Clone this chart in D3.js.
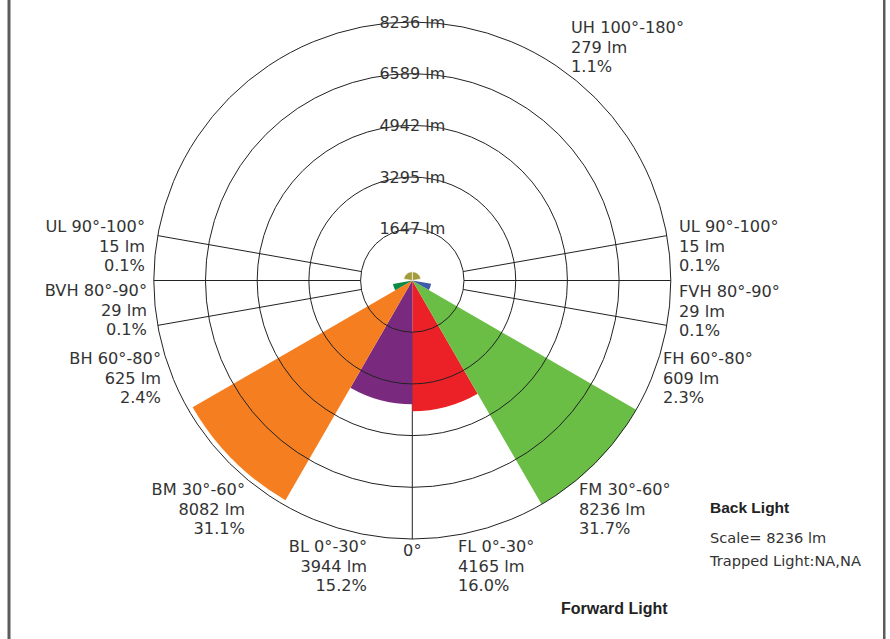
<!DOCTYPE html>
<html>
<head>
<meta charset="utf-8">
<script src="https://cdn.jsdelivr.net/npm/d3@7"></script>
<style>
  html, body { margin: 0; padding: 0; background: #fff; }
  svg { display: block; }
  text { font-family: "DejaVu Sans", Verdana, sans-serif; fill: #333; }
</style>
</head>
<body>
<svg id="chart" width="890" height="639"></svg>
<script>
// ---- data ----
const backZones = ["BL 0°-30°", "BM 30°-60°", "BH 60°-80°", "BVH 80°-90°", "UL 90°-100°"];
const backLumens = [3944, 8082, 625, 29, 15];
const backPercent = ["15.2%", "31.1%", "2.4%", "0.1%", "0.1%"];
const forwardZones = ["FL 0°-30°", "FM 30°-60°", "FH 60°-80°", "FVH 80°-90°", "UL 90°-100°"];
const forwardLumens = [4165, 8236, 609, 29, 15];
const forwardPercent = ["16.0%", "31.7%", "2.3%", "0.1%", "0.1%"];
const zoneStartDeg = [0, 30, 60, 80, 90];
const zoneEndDeg = [30, 60, 80, 90, 100];
const uplightZone = "UH 100°-180°";
const uplightLumens = 279;
const uplightPercent = "1.1%";
const uplightDeg = [100, 180];
const ringValues = [1647, 3295, 4942, 6589, 8236];
const gridAngles = [0, 80, 90, 100];
const scaleMax = 8236;
const trappedLight = "NA,NA";

// ---- style / layout ----
const backColors = ["#7a2a7e", "#f47e20", "#0c8a44", "#0c8a44", "#9a9a9a"];
const forwardColors = ["#ec2027", "#6abd45", "#3d5ba8", "#3d5ba8", "#9a9a9a"];
const uplightColor = "#a39c3e";
const cx = 412.3, cy = 280.5, R = 258.5;
const lineGap = 19.6;
const backLabelPos = [[367, 552], [245, 495], [161, 364], [147, 296], [145, 232]];
const forwardLabelPos = [[458, 552], [579, 495], [663, 364], [679, 297], [679, 232]];
const uplightLabelPos = [571, 33];

const svg = d3.select("#chart");
svg.append("rect").attr("x", 7.5).attr("y", 0).attr("width", 3).attr("height", 639).attr("fill", "#5c5c5c");
svg.append("rect").attr("x", 883).attr("y", 0).attr("width", 2.5).attr("height", 639).attr("fill", "#5c5c5c");

const r = d3.scaleLinear().domain([0, scaleMax]).range([0, R]);
const g = svg.append("g").attr("transform", `translate(${cx},${cy})`);
const rad = d => d * Math.PI / 180;

// radial grid lines (under the wedges)
const gridLines = [];
gridAngles.forEach(a => {
  gridLines.push(a);
  if (a !== 0) gridLines.push(-a);
});
g.selectAll("line.grid").data(gridLines).join("line")
  .attr("class", "grid")
  .attr("x1", a => r(ringValues[0]) * Math.sin(rad(a)))
  .attr("y1", a => r(ringValues[0]) * Math.cos(rad(a)))
  .attr("x2", a => R * Math.sin(rad(a)))
  .attr("y2", a => R * Math.cos(rad(a)))
  .attr("stroke", "#222").attr("stroke-width", 1);

// wedges
const arc = d3.arc().innerRadius(0);
const wedges = [];
forwardLumens.forEach((v, i) => wedges.push({
  v, color: forwardColors[i],
  start: Math.PI - rad(zoneEndDeg[i]), end: Math.PI - rad(zoneStartDeg[i])
}));
backLumens.forEach((v, i) => wedges.push({
  v, color: backColors[i],
  start: Math.PI + rad(zoneStartDeg[i]), end: Math.PI + rad(zoneEndDeg[i])
}));
g.selectAll("path.wedge").data(wedges).join("path")
  .attr("class", "wedge")
  .attr("d", d => arc({outerRadius: r(d.v), startAngle: d.start, endAngle: d.end}))
  .attr("fill", d => d.color);

// uplight (both halves)
const uh = [
  {start: Math.PI - rad(uplightDeg[1]), end: Math.PI - rad(uplightDeg[0])},
  {start: Math.PI + rad(uplightDeg[0]), end: Math.PI + rad(uplightDeg[1])}
];
g.selectAll("path.uh").data(uh).join("path")
  .attr("class", "uh")
  .attr("d", d => arc({outerRadius: r(uplightLumens), startAngle: d.start, endAngle: d.end}))
  .attr("fill", uplightColor).attr("stroke", "#fff").attr("stroke-width", 0.6);

// rings (over wedges)
g.selectAll("circle.ring").data(ringValues).join("circle")
  .attr("class", "ring")
  .attr("r", d => r(d)).attr("fill", "none")
  .attr("stroke", "#222").attr("stroke-width", 1);

g.selectAll("text.ring").data(ringValues).join("text")
  .attr("class", "ring")
  .attr("x", 0).attr("y", d => -r(d) + 5.5)
  .attr("text-anchor", "middle")
  .style("font-size", "16px")
  .text(d => d + " lm");

// zone labels
function label(pos, lines, anchor) {
  const t = svg.append("text")
    .attr("text-anchor", anchor)
    .style("font-size", "16.2px");
  lines.forEach((s, i) => {
    t.append("tspan").attr("x", pos[0]).attr("y", pos[1] + i * lineGap).text(s);
  });
}
backZones.forEach((z, i) => label(backLabelPos[i], [z, backLumens[i] + " lm", backPercent[i]], "end"));
forwardZones.forEach((z, i) => label(forwardLabelPos[i], [z, forwardLumens[i] + " lm", forwardPercent[i]], "start"));
label(uplightLabelPos, [uplightZone, uplightLumens + " lm", uplightPercent], "start");

svg.append("text").attr("x", cx).attr("y", 556).attr("text-anchor", "middle")
  .style("font-size", "16.2px").text("0°");

// side notes
svg.append("text").attr("x", 710).attr("y", 513)
  .style("font-family", "'Liberation Sans', Arial, sans-serif")
  .style("font-weight", "bold").style("font-size", "15.5px").style("fill", "#222")
  .text("Back Light");
svg.append("text").attr("x", 561).attr("y", 614)
  .style("font-family", "'Liberation Sans', Arial, sans-serif")
  .style("font-weight", "bold").style("font-size", "16px").style("fill", "#222")
  .text("Forward Light");
svg.append("text").attr("x", 710).attr("y", 543).style("font-size", "14.6px")
  .text("Scale= " + scaleMax + " lm");
svg.append("text").attr("x", 710).attr("y", 566).style("font-size", "14.6px")
  .text("Trapped Light:" + trappedLight);
</script>
</body>
</html>
